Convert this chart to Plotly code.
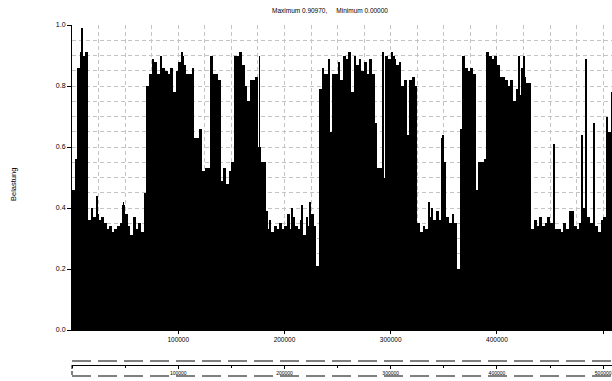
import plotly.graph_objects as go

# ---- data ----
step = 2500
load = [
    0.46, 0.56, 0.86, 0.91, 0.90, 0.91, 0.36, 0.40, 0.37, 0.38,
    0.36, 0.37, 0.35, 0.33, 0.34, 0.32, 0.33, 0.34, 0.35, 0.41,
    0.38, 0.34, 0.31, 0.37, 0.33, 0.35, 0.32, 0.45, 0.80, 0.84,
    0.89, 0.88, 0.84, 0.90, 0.86, 0.85, 0.84, 0.86, 0.78, 0.85,
    0.88, 0.90, 0.87, 0.84, 0.84, 0.86, 0.63, 0.63, 0.66, 0.52,
    0.53, 0.53, 0.90, 0.84, 0.84, 0.82, 0.49, 0.53, 0.48, 0.52,
    0.55, 0.90, 0.90, 0.91, 0.87, 0.80, 0.75, 0.82, 0.82, 0.83,
    0.60, 0.55, 0.55, 0.33, 0.36, 0.32, 0.34, 0.33, 0.35, 0.33,
    0.34, 0.38, 0.33, 0.37, 0.34, 0.33, 0.36, 0.31, 0.37, 0.34,
    0.38, 0.34, 0.21, 0.79, 0.86, 0.84, 0.84, 0.65, 0.84, 0.84,
    0.88, 0.82, 0.90, 0.89, 0.91, 0.78, 0.90, 0.87, 0.89, 0.85,
    0.88, 0.84, 0.89, 0.84, 0.68, 0.53, 0.53, 0.50, 0.90, 0.89,
    0.91, 0.89, 0.87, 0.88, 0.80, 0.82, 0.64, 0.82, 0.83, 0.80,
    0.35, 0.32, 0.34, 0.33, 0.37, 0.40, 0.36, 0.39, 0.36, 0.63,
    0.55, 0.37, 0.35, 0.38, 0.35, 0.20, 0.66, 0.90, 0.86, 0.85,
    0.86, 0.84, 0.46, 0.55, 0.55, 0.56, 0.91, 0.90, 0.89, 0.90,
    0.87, 0.83, 0.83, 0.82, 0.80, 0.82, 0.75, 0.79, 0.77, 0.86,
    0.83, 0.81, 0.81, 0.33, 0.36, 0.34, 0.37, 0.34, 0.35, 0.37,
    0.35, 0.38, 0.33, 0.33, 0.32, 0.35, 0.33, 0.36, 0.39, 0.34,
    0.33, 0.35, 0.40, 0.34, 0.37, 0.35, 0.33, 0.34, 0.32, 0.36,
    0.37, 0.70, 0.65, 0.78,
]
positions = [i * step + step / 2 for i in range(len(load))]

spike_pos = [9400, 23500, 48500, 103500, 176500, 183400, 207000, 216400,
             224200, 241800, 292800, 303200, 336400, 349000, 420800, 425500,
             454000, 468800, 479800, 484100, 491700]
spike_val = [0.99, 0.44, 0.42, 0.91, 0.90, 0.39, 0.40, 0.41,
             0.42, 0.89, 0.91, 0.90, 0.42, 0.64, 0.90, 0.90,
             0.61, 0.39, 0.64, 0.89, 0.68]

x_ticks = [100000, 200000, 300000, 400000, 500000]
x_ticktext = ["100000", "200000", "300000", "400000", "500000"]
y_ticks = [0.0, 0.2, 0.4, 0.6, 0.8, 1.0]
y_ticktext = ["0.0", "0.2", "0.4", "0.6", "0.8", "1.0"]

x_max = 508300
title_text = "Maximum 0.90970,     Minimum 0.00000"

# ---- figure ----
W, H = 612, 381
ml, mr, mt, mb = 72, 0, 24, 4
ph = H - mt - mb
def py(px):  # pixel row -> paper y
    return (H - mb - px) / ph
def px_(x):  # pixel col -> paper x
    return (x - ml) / (W - ml - mr)

fig = go.Figure()
fig.add_trace(go.Bar(x=positions, y=load, width=step,
                     marker=dict(color="black", line=dict(width=0)),
                     showlegend=False, hoverinfo="skip"))
fig.add_trace(go.Bar(x=spike_pos, y=spike_val, width=900,
                     marker=dict(color="black", line=dict(width=0)),
                     showlegend=False, hoverinfo="skip"))
fig.add_trace(go.Scatter(x=[], y=[], xaxis="x2", yaxis="y2", showlegend=False))

font = "Liberation Sans, Arial, sans-serif"
grid_col = "#c4c4c4"

fig.update_layout(
    width=W, height=H,
    margin=dict(l=ml, r=mr, t=mt, b=mb),
    paper_bgcolor="white", plot_bgcolor="white",
    barmode="overlay", bargap=0,
    font=dict(family=font, size=7, color="black"),
    xaxis=dict(
        range=[0, x_max], domain=[0, 1], anchor="y",
        tickvals=x_ticks, ticktext=x_ticktext,
        ticks="outside", ticklen=3, tickcolor="black", tickwidth=1,
        tickfont=dict(size=6.5),
        showline=True, linecolor="black", linewidth=1,
        showgrid=True, gridcolor=grid_col, griddash="4px,3px", gridwidth=1,
        minor=dict(dtick=25000, tick0=0, showgrid=True, gridcolor=grid_col,
                   griddash="4px,3px", ticks=""),
        zeroline=False,
    ),
    yaxis=dict(
        range=[0, 1.0], domain=[py(330), py(25)],
        tickvals=y_ticks, ticktext=y_ticktext,
        ticks="outside", ticklen=4, tickcolor="black", tickwidth=1,
        tickfont=dict(size=7),
        showline=True, linecolor="black", linewidth=1,
        showgrid=True, gridcolor=grid_col, griddash="4px,3px", gridwidth=1,
        minor=dict(dtick=0.05, tick0=0, showgrid=True, gridcolor=grid_col,
                   griddash="4px,3px", ticks=""),
        zeroline=False,
    ),
    xaxis2=dict(
        range=[0, x_max], domain=[0, 1], anchor="y2",
        tickvals=x_ticks, ticktext=x_ticktext,
        ticks="outside", ticklen=3, tickcolor="black",
        tickfont=dict(size=5),
        showline=True, linecolor="black", linewidth=1,
        showgrid=False, zeroline=False,
        minor=dict(dtick=50000, tick0=0, ticks="outside", ticklen=2,
                   tickcolor="black", showgrid=False),
    ),
    yaxis2=dict(
        range=[0, 1], domain=[py(365), py(361)], anchor="x2",
        visible=False, fixedrange=True,
    ),
    annotations=[
        dict(text=title_text, x=px_(330), y=py(11), xref="paper", yref="paper",
             showarrow=False, xanchor="center", yanchor="middle",
             font=dict(size=6.5, family=font)),
        dict(text="Belastung", x=px_(14), y=py(185), xref="paper", yref="paper",
             showarrow=False, textangle=-90, xanchor="center", yanchor="middle",
             font=dict(size=7.5, family=font)),
    ],
    shapes=[
        dict(type="line", xref="paper", yref="paper", x0=px_(72), x1=px_(612),
             y0=py(361), y1=py(361),
             line=dict(color="black", width=1, dash="19px,7px")),
        dict(type="line", xref="paper", yref="paper", x0=px_(72), x1=px_(612),
             y0=py(376), y1=py(376),
             line=dict(color="black", width=1, dash="19px,7px")),
        dict(type="line", xref="paper", yref="paper", x0=px_(72), x1=px_(72),
             y0=py(365), y1=py(376),
             line=dict(color="black", width=1, dash="4px,2px")),
    ],
)

fig.write_html("out.html",
               config={"displayModeBar": False},
               post_script="document.body.style.margin='0';document.body.style.overflow='hidden';")
